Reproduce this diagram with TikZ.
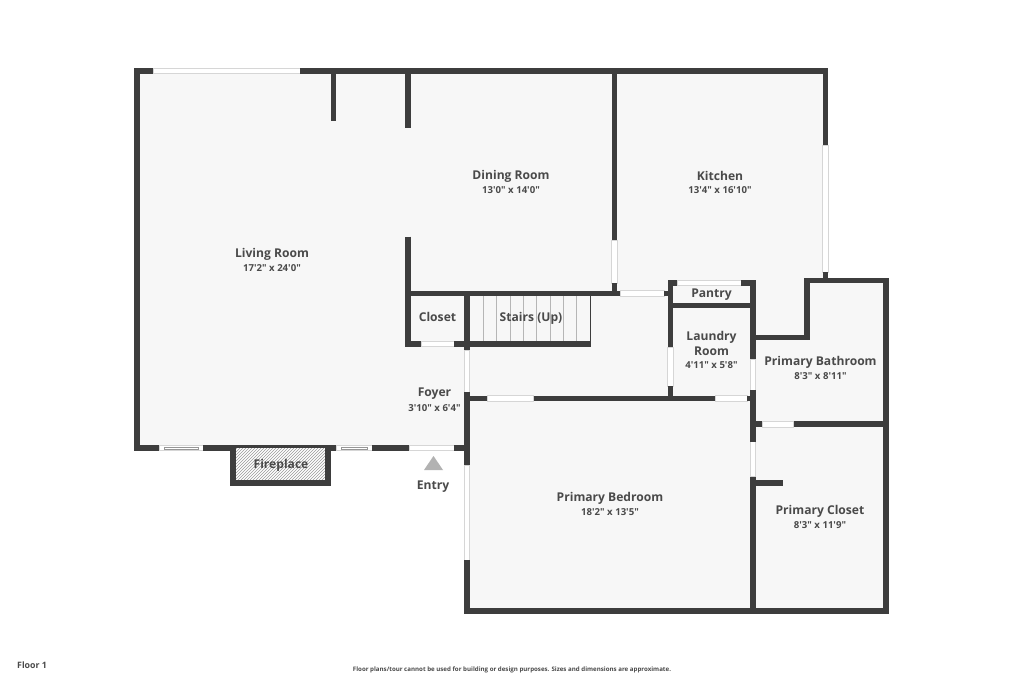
\documentclass[tikz,border=0pt]{standalone}
\usepackage{fontspec}
\usepackage{xcolor}
\usepackage{tikz}
\usetikzlibrary{patterns}
\newfontfamily\planfont{Open Sans}

\definecolor{wallgray}{HTML}{3D3D3D}
\definecolor{floorgray}{HTML}{F7F7F7}
\definecolor{edgegray}{HTML}{D6D6D6}
\definecolor{labelgray}{HTML}{4A4A4A}

\tikzset{
  wall/.style={line width=5.6pt, wallgray},
  gap/.style={draw=edgegray, fill=white, line width=0.7pt},
  tread/.style={line width=0.6pt, edgegray!85!black},
  room/.style={font=\planfont\fontsize{12.1}{15}\selectfont\bfseries, text=labelgray, align=center},
  size/.style={font=\planfont\fontsize{9.6}{12}\selectfont\bfseries, text=labelgray},
}

\begin{document}
\begin{tikzpicture}[x=1pt,y=-1pt]
  \useasboundingbox (0,0) rectangle (1023,682);
  \fill[white] (0,0) rectangle (1023,682);

  % Floor
  \fill[floorgray] (137,71) -- (825,71) -- (825,280) -- (886,280) -- (886,611)
    -- (467,611) -- (467,448) -- (137,448) -- cycle;

  % Windows and doors along the walls
  \draw[gap] (153,68.3) rectangle (300,73.7);
  \draw[gap] (159,445.3) rectangle (203,450.7);
  \draw[gap] (336,445.3) rectangle (372,450.7);
  \draw[gap] (409,445.3) rectangle (454,450.7);
  \draw[gap] (464.3,465) rectangle (469.7,560);
  \draw[gap] (464.3,350) rectangle (469.7,392);
  \draw[gap] (421,341.3) rectangle (454,346.7);
  \draw[gap] (611.7,240) rectangle (617.3,283);
  \draw[gap] (620,290.7) rectangle (664,296.3);
  \draw[gap] (677,280) rectangle (741,285.4);
  \draw[gap] (667.7,347) rectangle (673.3,386);
  \draw[gap] (822.7,145) rectangle (828.3,272);
  \draw[gap] (487,395.7) rectangle (533.5,401.3);
  \draw[gap] (715,395.7) rectangle (747,401.3);
  \draw[gap] (750.2,359) rectangle (755.8,390);
  \draw[gap] (762,421.3) rectangle (793.5,426.9);
  \draw[gap] (750.2,441.7) rectangle (755.8,476.7);

  % Window sashes on the living room wall
  \draw[edgegray!70!black, line width=0.5pt] (164,446.8) rectangle (198,449.2);
  \draw[edgegray!70!black, line width=0.5pt] (341,446.8) rectangle (367,449.2);

  % Outer walls
  \draw[wall] (153,71) -- (137,71) -- (137,450.8);
  \draw[wall] (300,71) -- (825.5,71) -- (825.5,145);
  \draw[wall] (134,448) -- (159,448);
  \draw[wall] (203,448) -- (336,448);
  \draw[wall] (372,448) -- (409,448);
  \draw[wall] (454,448) -- (469.8,448);
  \draw[wall] (467,392) -- (467,465);
  \draw[wall] (467,560) -- (467,611) -- (886,611) -- (886,280.5) -- (807,280.5)
    -- (807,337.5) -- (750,337.5);
  \draw[wall] (825.5,272) -- (825.5,280);

  % Stubs in the living room
  \draw[wall] (333.5,71) -- (333.5,121);
  \draw[wall] (408,71) -- (408,127.7);

  % Closet and stairs
  \draw[wall] (408,236.7) -- (408,344) -- (421,344);
  \draw[wall] (405,293.5) -- (620,293.5);
  \draw[wall] (454,344) -- (591,344);
  \draw[wall] (467,293.5) -- (467,350);
  \draw[line width=1.4pt, wallgray] (590.5,296) -- (590.5,344);
  \foreach \treadx in {483.3,496.7,510,523.3,536.7,550,563.3,576.7}
    \draw[tread] (\treadx,296) -- (\treadx,341);

  % Dining room and kitchen wall
  \draw[wall] (614.5,71) -- (614.5,240);
  \draw[wall] (614.5,283) -- (614.5,293.5);

  % Pantry and laundry room
  \draw[wall] (664,293.5) -- (670.5,293.5);
  \draw[wall] (677,282.7) -- (670.5,282.7) -- (670.5,347);
  \draw[wall] (741,282.7) -- (753,282.7) -- (753,359);
  \draw[wall] (670.5,305.5) -- (753,305.5);
  \draw[wall] (670.5,386) -- (670.5,398.5);

  % Wall above the primary bedroom
  \draw[wall] (467,398.5) -- (487,398.5);
  \draw[wall] (533.5,398.5) -- (715,398.5);
  \draw[wall] (747,398.5) -- (753,398.5);

  % Primary bathroom and closet
  \draw[wall] (753,390) -- (753,441.7);
  \draw[wall] (753,476.7) -- (753,611);
  \draw[wall] (753,424) -- (762,424);
  \draw[wall] (793.5,424) -- (886,424);
  \draw[wall] (753,483) -- (782.7,483);

  % Fireplace
  \fill[white] (232.7,448) rectangle (328,482.7);
  \fill[pattern=north east lines, pattern color=gray!80] (232.7,448) rectangle (328,482.7);
  \draw[wall] (232.7,448) -- (232.7,482.7) -- (328,482.7) -- (328,448);

  % Entry marker
  \fill[gray!60] (433.5,456) -- (443,470) -- (424,470) -- cycle;

  % Room labels
  \node[room] (living) at (272,254) {Living Room};
  \node[size] (livingsize) at (272,268) {17'2" x 24'0"};
  \node[room] (dining) at (511,176) {Dining Room};
  \node[size] (diningsize) at (511,190) {13'0" x 14'0"};
  \node[room] (kitchen) at (720,176) {Kitchen};
  \node[size] (kitchensize) at (720,190) {13'4" x 16'10"};
  \node[room] (closet) at (437.5,317) {Closet};
  \node[room] (stairs) at (531,318.5) {Stairs (Up)};
  \node[room] (foyer) at (434.5,394) {Foyer};
  \node[size] (foyersize) at (434.5,408) {3'10" x 6'4"};
  \node[room] (pantry) at (711.5,294.5) {Pantry};
  \node[room] (laundry) at (711.5,343) {Laundry\\Room};
  \node[size] (laundrysize) at (711.5,365) {4'11" x 5'8"};
  \node[room] (bathroom) at (820.5,362) {Primary Bathroom};
  \node[size] (bathroomsize) at (820.5,376) {8'3" x 8'11"};
  \node[room] (bedroom) at (610,498) {Primary Bedroom};
  \node[size] (bedroomsize) at (610,512) {18'2" x 13'5"};
  \node[room] (walkin) at (820,511) {Primary Closet};
  \node[size] (walkinsize) at (820,525) {8'3" x 11'9"};
  \node[room] (fireplace) at (281,465.5) {Fireplace};
  \node[room] (entry) at (433,487) {Entry};

  % Footer
  \node[anchor=west, inner sep=0pt, text=labelgray, font=\planfont\fontsize{8.8}{10}\selectfont\bfseries] (floor) at (17,665) {Floor 1};
  \node[text=labelgray, font=\planfont\fontsize{6.15}{8}\selectfont\bfseries] (notice) at (512,669.5) {Floor plans/tour cannot be used for building or design purposes. Sizes and dimensions are approximate.};
\end{tikzpicture}
\end{document}
